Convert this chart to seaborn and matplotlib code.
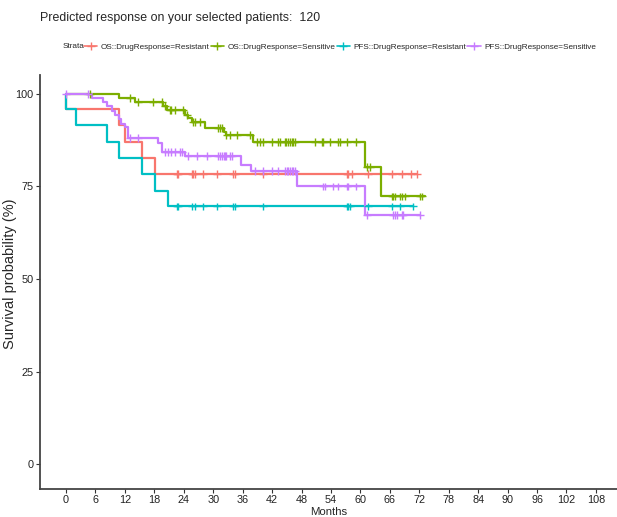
import numpy as np
import pandas as pd
import seaborn as sns
import matplotlib.pyplot as plt
from matplotlib import font_manager

# Kaplan-Meier curves (months, survival %)
strata = ['OS::DrugResponse=Resistant', 'OS::DrugResponse=Sensitive',
          'PFS::DrugResponse=Resistant', 'PFS::DrugResponse=Sensitive']
colors = ['#F8766D', '#7CAE00', '#00BFC4', '#C77CFF']

os_res_events = [0, 10.8, 12.0, 15.4, 18.1]
os_res_surv = [95.8, 91.5, 87.1, 82.7, 78.3]
os_res_end = 71.5
os_res_cens = [22.6, 22.9, 25.6, 25.9, 26.3, 28.0, 30.7, 34.0, 34.4, 40.2, 57.2,
               57.5, 58.2, 61.6, 66.4, 68.4, 70.4, 71.5]

os_sen_events = [10.7, 14.0, 19.8, 20.5, 24.3, 24.9, 25.6, 28.3, 32.1, 32.7, 38.2, 60.9, 64.3]
os_sen_surv = [99.0, 97.9, 96.8, 95.7, 94.4, 93.4, 92.4, 90.9, 89.8, 88.8, 87.1, 80.2, 72.3]
os_sen_end = 73.2
os_sen_cens = [4.9, 13.0, 14.7, 17.8, 19.5, 20.2, 21.2, 21.5, 22.2, 23.9, 24.6, 25.9, 26.3,
               27.3, 31.0, 31.4, 31.7, 32.7, 33.4, 34.8, 37.5, 38.9, 39.5, 40.2, 41.9, 43.3,
               43.6, 44.6, 44.9, 45.3, 45.6, 46.0, 46.3, 46.7, 50.7, 52.1, 52.4, 53.8, 55.5,
               55.8, 57.2, 59.2, 61.3, 62.0, 66.4, 66.7, 67.0, 68.0, 68.4, 69.1, 72.1, 72.5]

pfs_res_events = [0, 2.0, 8.3, 10.8, 15.4, 18.1, 20.8]
pfs_res_surv = [95.8, 91.5, 87.1, 82.7, 78.3, 73.9, 69.6]
pfs_res_end = 70.8
pfs_res_cens = [22.6, 22.9, 25.6, 26.3, 28.0, 30.7, 34.0, 34.4, 40.2, 57.2, 57.5, 57.9,
                61.6, 66.4, 68.0, 70.8]

pfs_sen_events = [5.2, 7.6, 8.3, 9.3, 10.0, 10.8, 11.3, 12.0, 12.7, 18.8, 19.5, 24.3,
                  35.7, 37.8, 47.0, 60.9]
pfs_sen_surv = [98.9, 97.8, 96.6, 95.4, 94.2, 93.1, 92.0, 91.1, 88.1, 86.8, 84.4, 83.3,
                80.9, 79.1, 75.0, 67.4]
pfs_sen_end = 72.1
pfs_sen_cens = [0.0, 4.5, 13.0, 14.7, 20.2, 20.8, 21.5, 22.2, 23.2, 23.6, 24.9, 26.6, 28.7,
                31.0, 31.4, 31.7, 32.1, 32.4, 32.7, 33.4, 33.8, 38.5, 40.2, 41.9, 43.3, 44.6,
                45.0, 45.3, 45.6, 46.0, 46.3, 46.7, 52.4, 52.8, 54.5, 55.5, 57.2, 57.5, 59.2,
                61.3, 66.7, 67.0, 67.4, 68.4, 68.7, 72.1]

curves = [
    (os_res_events, os_res_surv, os_res_end, os_res_cens),
    (os_sen_events, os_sen_surv, os_sen_end, os_sen_cens),
    (pfs_res_events, pfs_res_surv, pfs_res_end, pfs_res_cens),
    (pfs_sen_events, pfs_sen_surv, pfs_sen_end, pfs_sen_cens),
]

# build step tables and censor tables
step_rows = []
cens_rows = []
for name, (ev, sv, end, cens) in zip(strata, curves):
    t = [0] + list(ev) + [end]
    s = [100] + list(sv) + [sv[-1]]
    for ti, si in zip(t, s):
        step_rows.append((name, ti, si))
    ev_arr = np.array([0] + list(ev))
    sv_arr = np.array([100] + list(sv))
    for c in cens:
        idx = np.searchsorted(ev_arr, c, side='right') - 1
        cens_rows.append((name, c, sv_arr[idx]))

df_steps = pd.DataFrame(step_rows, columns=['strata', 'time', 'surv'])
df_cens = pd.DataFrame(cens_rows, columns=['strata', 'time', 'surv'])

sns.set_style('ticks')

# narrow font if present, otherwise shrink regular Liberation Sans
names = {f.name for f in font_manager.fontManager.ttflist}
if 'Liberation Sans Narrow' in names:
    narrow, k = 'Liberation Sans Narrow', 1.0
else:
    narrow, k = 'Liberation Sans', 0.82
plt.rcParams['font.family'] = [narrow, 'DejaVu Sans']

fig = plt.figure(figsize=(6.17, 5.17), dpi=100)
ax = fig.add_axes([40 / 617, 28 / 517, 577 / 617, 414 / 517])

palette = dict(zip(strata, colors))
sns.lineplot(data=df_steps, x='time', y='surv', hue='strata', palette=palette,
             estimator=None, sort=False, drawstyle='steps-post', lw=1.6,
             ax=ax, legend=False)
sns.scatterplot(data=df_cens, x='time', y='surv', hue='strata', palette=palette,
                marker='+', s=32, linewidth=1.0, ax=ax, legend=False, zorder=3)

ax.set_xlim(-5.3, 112.3)
ax.set_ylim(-6.7, 105.1)
ax.set_xticks(np.arange(0, 109, 6))
ax.set_yticks([0, 25, 50, 75, 100])
ax.tick_params(axis='both', labelsize=9.6 * k, length=3, width=0.8, bottom=True, left=True,
               colors='#333333', labelcolor='#222222', pad=1.5)
for side in ['top', 'right']:
    ax.spines[side].set_visible(False)
for side in ['left', 'bottom']:
    ax.spines[side].set_color('#444444')
    ax.spines[side].set_linewidth(1.3)
ax.set_xlabel('Months', fontsize=10 * k, labelpad=1)
ax.set_ylabel('Survival probability (%)', fontsize=10.5,
              family=['Liberation Sans', 'DejaVu Sans'])
ax.yaxis.set_label_coords(-0.04, 0.52)

fig.text(40 / 617, 1 - 18 / 517, 'Predicted response on your selected patients:  120',
         fontsize=10.9 * k, va='center', ha='left')

# legend row: "Strata" label followed by entries
fig.text(63 / 617, 1 - 47 / 517, 'Strata', fontsize=7.2 * k, va='center', ha='left')
handles = [plt.Line2D([], [], color=c, marker='+', markersize=6, lw=1.2) for c in colors]
fig.legend(handles, strata, loc='center left', bbox_to_anchor=(84 / 617, 1 - 47 / 517),
           ncol=4, frameon=False, fontsize=7.2 * k, handlelength=1.6, handletextpad=0.4,
           columnspacing=0.2, borderaxespad=0, borderpad=0)

fig.savefig('out.png', dpi=100)
